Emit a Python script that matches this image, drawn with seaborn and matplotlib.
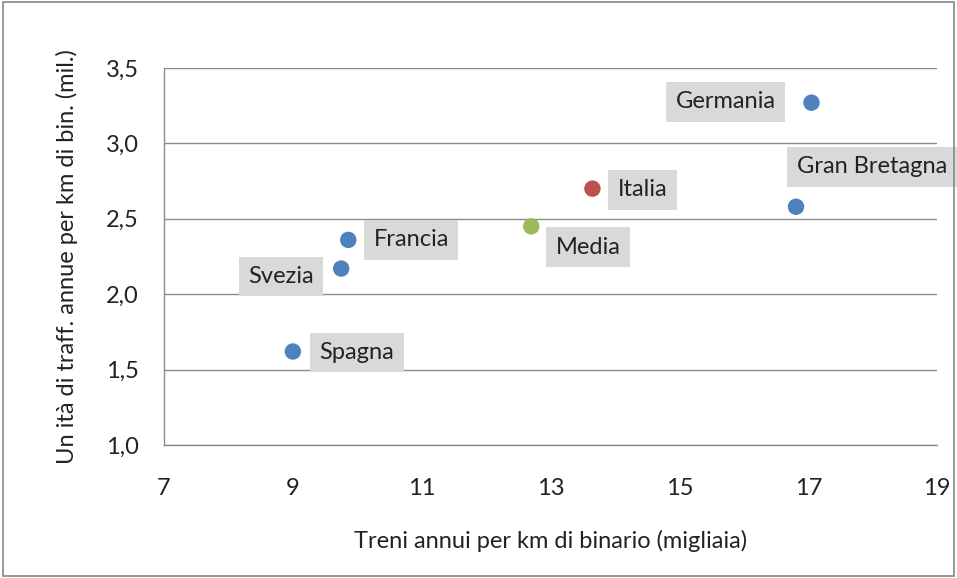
import pandas as pd
import matplotlib.pyplot as plt
import matplotlib.patches as patches
import seaborn as sns

# Data
paesi = ['Germania', 'Gran Bretagna', 'Italia', 'Media', 'Francia', 'Svezia', 'Spagna']
treni = [17.05, 16.81, 13.65, 12.70, 9.86, 9.75, 9.00]
unita = [3.27, 2.58, 2.70, 2.45, 2.36, 2.17, 1.62]
gruppo = ['altri', 'altri', 'Italia', 'Media', 'altri', 'altri', 'altri']
x_ticks = [7, 9, 11, 13, 15, 17, 19]
y_ticks = [1.0, 1.5, 2.0, 2.5, 3.0, 3.5]

df = pd.DataFrame({'paese': paesi, 'treni': treni, 'unita': unita, 'gruppo': gruppo})

sns.set_style('white')
plt.rcParams['font.family'] = ['Lato', 'DejaVu Sans']

fig = plt.figure(figsize=(9.57, 5.78), dpi=100)
ax = fig.add_axes([0.1714, 0.2301, 0.8078, 0.6523])

colori = {'altri': '#4F81BD', 'Italia': '#C0504D', 'Media': '#9BBB59'}
sns.scatterplot(data=df, x='treni', y='unita', hue='gruppo', palette=colori,
                s=140, edgecolor='none', legend=False, ax=ax, zorder=3)

# label offsets in pixels
offsets = {'Germania': (-86, 1), 'Gran Bretagna': (76, 40), 'Italia': (50, -1),
           'Media': (57, -21), 'Francia': (63, 0), 'Svezia': (-60, -8), 'Spagna': (64, -1)}
for _, r in df.iterrows():
    ax.annotate(r['paese'], (r['treni'], r['unita']), xytext=offsets[r['paese']],
                textcoords='offset pixels', ha='center', va='center', fontsize=17,
                color='#222222', zorder=4,
                bbox=dict(boxstyle='square,pad=0.4', fc='#D9D9D9', ec='none'))

ax.set_xlim(7, 19)
ax.set_ylim(1.0, 3.5)
ax.set_xticks(x_ticks)
ax.set_yticks(y_ticks)
ax.set_yticklabels([f'{v:.1f}'.replace('.', ',') for v in y_ticks])
ax.yaxis.grid(True, color='#8C8C8C', linewidth=1)
ax.xaxis.grid(False)
ax.tick_params(axis='both', labelsize=17, length=0, colors='#222222')
ax.tick_params(axis='x', pad=24)
ax.tick_params(axis='y', pad=18)
for side in ['top', 'right']:
    ax.spines[side].set_visible(False)
for side in ['left', 'bottom']:
    ax.spines[side].set_color('#8C8C8C')
    ax.spines[side].set_linewidth(1)

ax.set_xlabel('Treni annui per km di binario (migliaia)', fontsize=17, color='#222222', labelpad=22)
ax.set_ylabel('Un ità di traff. annue per km di bin. (mil.)', fontsize=17, color='#222222', labelpad=20)

fig.add_artist(patches.Rectangle((0.003, 0.004), 0.994, 0.992, transform=fig.transFigure,
                                 fill=False, edgecolor='#888888', linewidth=1.2))

plt.savefig('out.png', dpi=100)
